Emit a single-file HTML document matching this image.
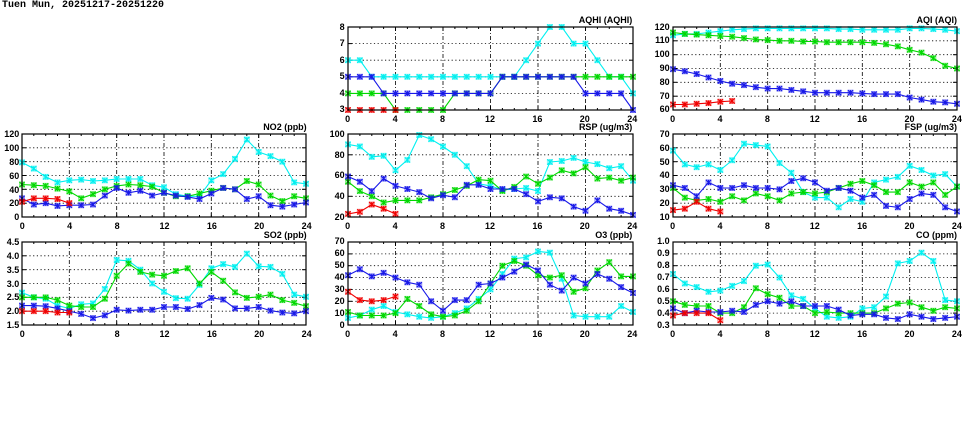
<!DOCTYPE html>
<html><head><meta charset="utf-8">
<style>
html,body{margin:0;padding:0;background:#fff;}
body{width:975px;height:447px;position:relative;overflow:hidden;font-family:"Liberation Sans",sans-serif;font-weight:bold;font-size:9px;color:#000;}
.main{position:absolute;left:2px;top:0px;font-family:"Liberation Mono",monospace;font-size:10px;line-height:12px;}
.p{position:absolute;}
.p svg{position:absolute;left:0;top:0;overflow:visible;}
.t{position:absolute;right:0;top:-12px;white-space:nowrap;line-height:10px;}
.yl{position:absolute;left:-40px;width:37px;top:-6px;bottom:-6px;display:flex;flex-direction:column-reverse;justify-content:space-between;text-align:right;}
.yl span{height:12px;line-height:12px;}
.xl{position:absolute;left:-15px;right:-15px;display:flex;justify-content:space-between;}
.xl span{width:30px;text-align:center;line-height:10px;}
</style></head><body>
<div class="main">Tuen Mun, 20251217-20251220</div>

<div class="p" id="AQHI" style="left:347.7px;top:26.7px;width:284.6px;height:82.7px">
<div class="t">AQHI (AQHI)</div>
<div class="yl"><span>3</span><span>4</span><span>5</span><span>6</span><span>7</span><span>8</span></div>
<div class="xl" style="top:87px"><span>0</span><span>4</span><span>8</span><span>12</span><span>16</span><span>20</span><span>24</span></div>
</div>

<div class="p" id="AQI" style="left:672.7px;top:26.7px;width:284.3px;height:82.7px">
<div class="t">AQI (AQI)</div>
<div class="yl"><span>60</span><span>70</span><span>80</span><span>90</span><span>100</span><span>110</span><span>120</span></div>
<div class="xl" style="top:87px"><span>0</span><span>4</span><span>8</span><span>12</span><span>16</span><span>20</span><span>24</span></div>
</div>

<div class="p" id="NO2" style="left:22.3px;top:134.2px;width:284.4px;height:83.2px">
<div class="t">NO2 (ppb)</div>
<div class="yl"><span>0</span><span>20</span><span>40</span><span>60</span><span>80</span><span>100</span><span>120</span></div>
<div class="xl" style="top:87px"><span>0</span><span>4</span><span>8</span><span>12</span><span>16</span><span>20</span><span>24</span></div>
</div>

<div class="p" id="RSP" style="left:347.7px;top:134.2px;width:284.6px;height:82.5px">
<div class="t">RSP (ug/m3)</div>
<div class="yl"><span>20</span><span>40</span><span>60</span><span>80</span><span>100</span></div>
<div class="xl" style="top:87px"><span>0</span><span>4</span><span>8</span><span>12</span><span>16</span><span>20</span><span>24</span></div>
</div>

<div class="p" id="FSP" style="left:672.7px;top:134.2px;width:284.3px;height:82.5px">
<div class="t">FSP (ug/m3)</div>
<div class="yl"><span>10</span><span>20</span><span>30</span><span>40</span><span>50</span><span>60</span><span>70</span></div>
<div class="xl" style="top:87px"><span>0</span><span>4</span><span>8</span><span>12</span><span>16</span><span>20</span><span>24</span></div>
</div>

<div class="p" id="SO2" style="left:22.3px;top:242.3px;width:284.4px;height:82.7px">
<div class="t">SO2 (ppb)</div>
<div class="yl"><span>1.5</span><span>2.0</span><span>2.5</span><span>3.0</span><span>3.5</span><span>4.0</span><span>4.5</span></div>
<div class="xl" style="top:87px"><span>0</span><span>4</span><span>8</span><span>12</span><span>16</span><span>20</span><span>24</span></div>
</div>

<div class="p" id="O3" style="left:347.7px;top:242.3px;width:284.6px;height:82.7px">
<div class="t">O3 (ppb)</div>
<div class="yl"><span>0</span><span>10</span><span>20</span><span>30</span><span>40</span><span>50</span><span>60</span><span>70</span></div>
<div class="xl" style="top:87px"><span>0</span><span>4</span><span>8</span><span>12</span><span>16</span><span>20</span><span>24</span></div>
</div>

<div class="p" id="CO" style="left:672.7px;top:242.3px;width:284.3px;height:82.7px">
<div class="t">CO (ppm)</div>
<div class="yl"><span>0.3</span><span>0.4</span><span>0.5</span><span>0.6</span><span>0.7</span><span>0.8</span><span>0.9</span><span>1.0</span></div>
<div class="xl" style="top:87px"><span>0</span><span>4</span><span>8</span><span>12</span><span>16</span><span>20</span><span>24</span></div>
</div>

<script>
var C={c:"#00f0f0",g:"#00d800",b:"#1818e8",r:"#f00000"};
var D={
AQHI:{min:3,max:8,n:5,s:{
c:[6,6,5,5,5,5,5,5,5,5,5,5,5,5,5,6,7,8,8,7,7,6,5,5,4],
g:[4,4,4,4,3,3,3,3,3,4,4,4,4,5,5,5,5,5,5,5,5,5,5,5,5],
b:[5,5,5,4,4,4,4,4,4,4,4,4,4,5,5,5,5,5,5,5,4,4,4,4,3],
r:[3,3,3,3,3]}},
AQI:{min:60,max:120,n:6,s:{
c:[114,115,115,116,117,118,118.5,119,119,119,119,119,119,119,118.5,118.5,118,118,118,118,119,119,118.5,118,117],
g:[116,115,114.5,114,113.5,113,112,111,110.5,110,110,109.5,109.5,109,109,109,109,108.5,107.5,106,103.5,101.5,97.5,92,90],
b:[89.5,88,86,83.5,81,79,78,76.5,75.5,75.5,74.5,73.5,72.5,72.5,72.5,72.5,72,71.5,71.5,71.5,69,67.5,66,65.5,64.5],
r:[64,64,64.5,65,66,66.5]}},
NO2:{min:0,max:120,n:6,s:{
c:[79,70,58,50,53,54,52,53,55,55,55,46,43,33,30,30,53,62,84,112,94,88,80,50,48],
g:[47,46,45,41,37,27,33,40,45,47,46,44,35,30,30,34,38,42,40,52,47,31,23,30,27],
b:[27,18,20,16,17,17,18,31,42,35,38,31,35,31,29,26,34,42,40,26,30,17,15,18,21],
r:[22,27,27,26,20]}},
RSP:{min:20,max:100,n:4,s:{
c:[90,88,78,79,65,75,99,95,88,80,69,52,50,46,47,48,45,73,74,77,73,71,67,69,55],
g:[54,45,40,34,36,36,36,39,42,46,50,56,55,45,49,59,52,58,65,62,68,57,58,55,58],
b:[59,54,45,57,50,47,44,38,41,39,51,51,47,47,47,42,35,39,38,30,26,36,28,26,22],
r:[23,25,32,28,23]}},
FSP:{min:10,max:70,n:6,s:{
c:[58,48,46,48,44,51,63,62,61,49,42,28,24,24,17,23,21,35,37,39,47,44,40,41,32],
g:[31,24,22,23,21,25,22,27,25,22,27,28,27,28,31,34,36,33,28,28,35,32,35,26,32],
b:[33,31,25,35,31,31,33,31,31,30,36,38,35,29,31,29,24,26,18,17,23,27,26,17,14],
r:[15,16,21,16,14]}},
SO2:{min:1.5,max:4.5,n:6,s:{
c:[2.67,2.5,2.45,2.2,2.1,2.25,2.28,2.8,3.85,3.82,3.5,3.0,2.7,2.47,2.45,2.95,3.55,3.7,3.6,4.08,3.62,3.6,3.35,2.6,2.52],
g:[2.5,2.5,2.5,2.4,2.2,2.15,2.15,2.45,3.28,3.72,3.42,3.32,3.28,3.45,3.55,3.0,3.42,3.1,2.68,2.48,2.52,2.6,2.4,2.3,2.18],
b:[2.2,2.2,2.18,2.1,2.0,1.9,1.75,1.85,2.05,2.02,2.05,2.05,2.15,2.15,2.08,2.22,2.48,2.42,2.1,2.1,2.15,2.02,1.95,1.92,2.0],
r:[2.0,2.0,2.0,1.95,1.95]}},
O3:{min:0,max:70,n:7,s:{
c:[6,8,13,16,11,9,7,6,7,10,14,22,30,43,56,57,62,61,39,8,7,7,7,16,11],
g:[11,8,8,8,10,22,16,9,7,8,12,20,35,50,54,50,42,40,42,28,31,46,53,41,41],
b:[42,47,41,44,40,36,34,20,12,21,21,34,35,40,45,51,46,34,29,40,35,43,39,32,27],
r:[28,21,20,21,24]}},
CO:{min:0.3,max:1.0,n:7,s:{
c:[.73,.65,.62,.58,.59,.63,.67,.80,.81,.70,.55,.52,.44,.37,.36,.37,.44,.45,.54,.82,.84,.91,.84,.51,.50],
g:[.50,.47,.46,.46,.40,.40,.45,.61,.56,.53,.46,.46,.40,.41,.40,.40,.40,.40,.44,.48,.49,.45,.42,.45,.44],
b:[.44,.40,.42,.41,.41,.42,.41,.47,.50,.48,.50,.46,.46,.46,.43,.38,.39,.39,.36,.35,.39,.37,.35,.36,.37],
r:[.38,.40,.40,.40,.34]}}
};
var NS="http://www.w3.org/2000/svg";
for(var id in D){
 var el=document.getElementById(id),d=D[id];
 var W=el.offsetWidth,H=el.offsetHeight;
 var svg=document.createElementNS(NS,"svg");
 svg.setAttribute("width",W);svg.setAttribute("height",H);
 var h="";
 function X(i){return i/24*W;}
 function Y(v){return H-(v-d.min)/(d.max-d.min)*H;}
 for(var k=1;k<d.n;k++){var y=(H*k/d.n).toFixed(1);
  h+='<line x1="0" x2="'+W+'" y1="'+y+'" y2="'+y+'" stroke="#000" stroke-width="0.8" stroke-dasharray="1.2,2.5"/>';
  h+='<line x1="0" x2="4" y1="'+y+'" y2="'+y+'" stroke="#000"/><line x1="'+(W-4)+'" x2="'+W+'" y1="'+y+'" y2="'+y+'" stroke="#000"/>';}
 for(var i=1;i<24;i++){var x=X(i).toFixed(1);
  if(i%4==0){h+='<line y1="0" y2="'+H+'" x1="'+x+'" x2="'+x+'" stroke="#000" stroke-width="0.8" stroke-dasharray="4,2,1,2"/>';
   h+='<line y1="0" y2="4" x1="'+x+'" x2="'+x+'" stroke="#000"/><line y1="'+(H-4)+'" y2="'+H+'" x1="'+x+'" x2="'+x+'" stroke="#000"/>';}
  else{h+='<line y1="0" y2="2" x1="'+x+'" x2="'+x+'" stroke="#000"/><line y1="'+(H-2)+'" y2="'+H+'" x1="'+x+'" x2="'+x+'" stroke="#000"/>';}}
 ["c","g","b","r"].forEach(function(k){
  var a=d.s[k],col=C[k],pts=[];
  for(var i=0;i<a.length;i++)pts.push(X(i).toFixed(1)+","+Y(a[i]).toFixed(1));
  h+='<polyline fill="none" stroke="'+col+'" stroke-width="1.1" points="'+pts.join(" ")+'"/>';
  for(var i=0;i<a.length;i++){var x=X(i),y=Y(a[i]),m=2.6;
   h+='<rect x="'+(x-m)+'" y="'+(y-m)+'" width="'+(2*m)+'" height="'+(2*m)+'" fill="'+col+'" fill-opacity="0.25" stroke="'+col+'" stroke-opacity="0.45" stroke-width="0.8"/>';
   h+='<path d="M'+(x-m)+' '+(y-m)+'L'+(x+m)+' '+(y+m)+'M'+(x+m)+' '+(y-m)+'L'+(x-m)+' '+(y+m)+'M'+x+' '+(y-m)+'V'+(y+m)+'" stroke="'+col+'" stroke-width="1.1"/>';}
 });
 h+='<rect x="0" y="0" width="'+W+'" height="'+H+'" fill="none" stroke="#000" stroke-width="1.2"/>';
 svg.innerHTML=h;
 el.insertBefore(svg,el.firstChild);
}
</script>
</body></html>
